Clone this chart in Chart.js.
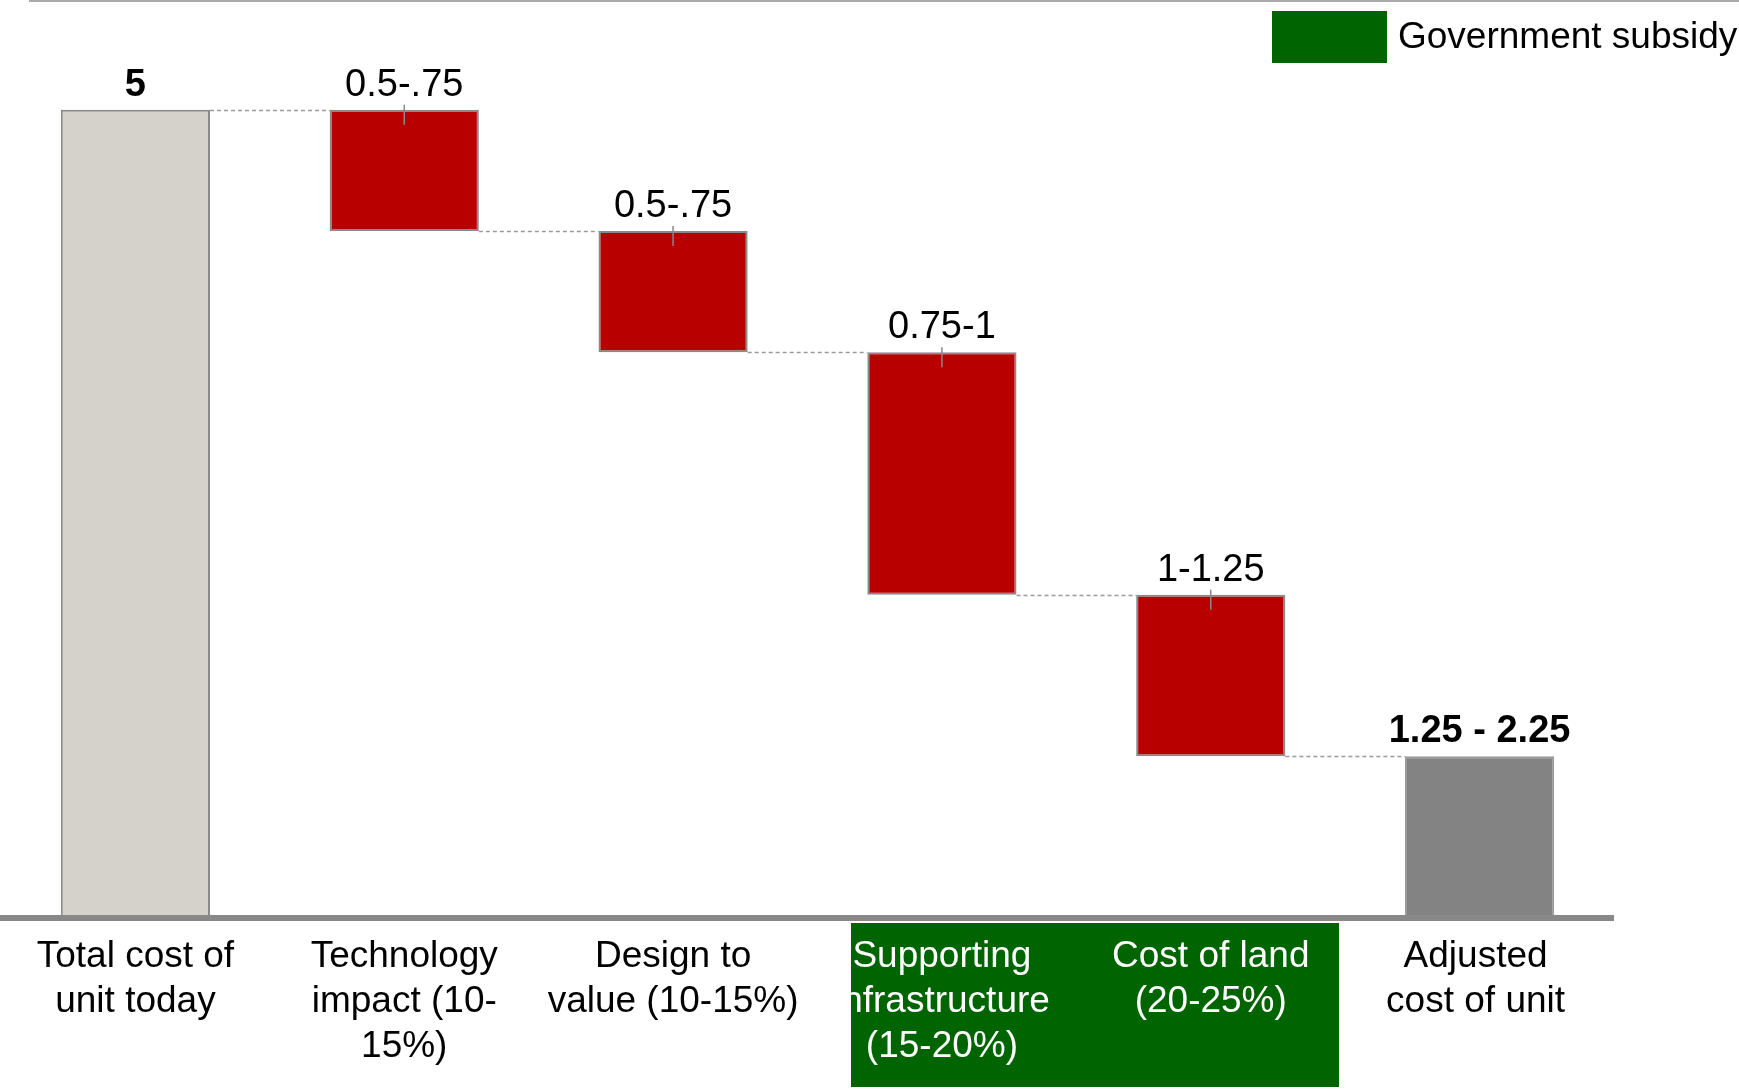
<!DOCTYPE html>
<html>
<head>
<meta charset="utf-8">
<script src="https://cdn.jsdelivr.net/npm/chart.js@4.4.0/dist/chart.umd.min.js"></script>
<style>
  html, body { margin: 0; padding: 0; background: #fff; overflow: hidden; }
  canvas { display: block; }
</style>
</head>
<body>
<canvas id="waterfallChart" width="1739" height="1089"></canvas>
<script>
// Data
const categories = [
    ["Total cost of", "unit today"],
    ["Technology", "impact (10-", "15%)"],
    ["Design to", "value (10-15%)"],
    ["Supporting", "infrastructure", "(15-20%)"],
    ["Cost of land", "(20-25%)"],
    ["Adjusted", "cost of unit"]
];
const startValue = 5;
const changes = [-0.75, -0.75, -1.5, -1];
const valueLabels = ["5", "0.5-.75", "0.5-.75", "0.75-1", "1-1.25", "1.25 - 2.25"];
const boldLabels = [true, false, false, false, false, true];
const subsidyCategories = [3, 4];
const legendText = "Government subsidy";

// build floating bars from the steps
const runningTotals = [startValue];
changes.forEach(c => runningTotals.push(runningTotals[runningTotals.length - 1] + c));
const endValue = runningTotals[runningTotals.length - 1];
const barData = [[0, startValue]];
for (let i = 0; i < changes.length; i++) {
    barData.push([runningTotals[i + 1], runningTotals[i]]);
}
barData.push([0, endValue]);
runningTotals.push(endValue);

const FONT = '"Liberation Sans", Arial, Helvetica, sans-serif';
const GREEN = '#006400';

const fillColors = ['#d5d2cb', '#b80000', '#b80000', '#b80000', '#b80000', '#838383'];
const borderColors = ['#8a8a8a', '#8a8a8a', '#8a8a8a', '#8a8a8a', '#8a8a8a', '#9a9a9a'];

const waterfallPlugin = {
    id: 'waterfallExtras',
    beforeDatasetsDraw(chart) {
        const ctx = chart.ctx;
        const meta = chart.getDatasetMeta(0);
        const y = chart.scales.y;
        // dashed connectors
        ctx.save();
        ctx.strokeStyle = '#9a9a9a';
        ctx.lineWidth = 1.5;
        ctx.setLineDash([4, 3]);
        for (let i = 0; i < meta.data.length - 1; i++) {
            const a = meta.data[i], b = meta.data[i + 1];
            const py = Math.round(y.getPixelForValue(runningTotals[i])) + 0.5;
            ctx.beginPath();
            ctx.moveTo(a.x + a.width / 2, py);
            ctx.lineTo(b.x - b.width / 2, py);
            ctx.stroke();
        }
        ctx.restore();
    },
    afterDatasetsDraw(chart) {
        const ctx = chart.ctx;
        const meta = chart.getDatasetMeta(0);
        const y = chart.scales.y;
        const area = chart.chartArea;
        ctx.save();

        // top rule
        ctx.strokeStyle = '#aaaaaa';
        ctx.lineWidth = 2;
        ctx.beginPath();
        ctx.moveTo(29, 1);
        ctx.lineTo(chart.width, 1);
        ctx.stroke();

        // axis line
        const base = y.getPixelForValue(0);
        ctx.strokeStyle = '#888888';
        ctx.lineWidth = 6;
        ctx.beginPath();
        ctx.moveTo(0, base);
        ctx.lineTo(area.right, base);
        ctx.stroke();

        // ticks on change bars + value labels
        meta.data.forEach((bar, i) => {
            const top = y.getPixelForValue(barData[i][1]);
            if (i > 0 && i < meta.data.length - 1) {
                ctx.strokeStyle = '#888888';
                ctx.lineWidth = 1.5;
                ctx.beginPath();
                ctx.moveTo(bar.x, top - 5);
                ctx.lineTo(bar.x, top + 15);
                ctx.stroke();
            }
            ctx.fillStyle = '#000';
            ctx.textAlign = 'center';
            ctx.textBaseline = 'alphabetic';
            ctx.font = (boldLabels[i] ? 'bold ' : '') + '38px ' + FONT;
            ctx.fillText(valueLabels[i], bar.x, top - 14);
        });

        // subsidy box behind labels
        const first = meta.data[subsidyCategories[0]];
        const last = meta.data[subsidyCategories[subsidyCategories.length - 1]];
        const boxL = Math.round(first.x - 91), boxR = Math.round(last.x + 128);
        const boxT = 923, boxB = 1087;
        ctx.fillStyle = GREEN;
        ctx.fillRect(boxL, boxT, boxR - boxL, boxB - boxT);

        // category labels
        ctx.font = '37px ' + FONT;
        ctx.textAlign = 'center';
        meta.data.forEach((bar, i) => {
            const inBox = subsidyCategories.includes(i);
            const cx = i === meta.data.length - 1 ? bar.x - 4 : bar.x;
            ctx.save();
            if (inBox) {
                ctx.beginPath();
                ctx.rect(boxL, boxT, boxR - boxL, boxB - boxT);
                ctx.clip();
                ctx.fillStyle = '#fff';
            } else {
                ctx.fillStyle = '#000';
            }
            categories[i].forEach((line, k) => {
                ctx.fillText(line, cx, 967 + k * 45);
            });
            ctx.restore();
        });

        // legend
        ctx.fillStyle = GREEN;
        ctx.fillRect(1272, 11, 115, 52);
        ctx.fillStyle = '#000';
        ctx.textAlign = 'left';
        ctx.font = '37px ' + FONT;
        ctx.fillText(legendText, 1398, 48);

        ctx.restore();
    }
};

const ctxWaterfall = document.getElementById('waterfallChart').getContext('2d');
const waterfallChart = new Chart(ctxWaterfall, {
    type: 'bar',
    data: {
        labels: categories.map(c => c.join(' ')),
        datasets: [{
            data: barData,
            backgroundColor: fillColors,
            borderColor: borderColors,
            borderWidth: 2,
            borderSkipped: false,
            categoryPercentage: 1,
            barPercentage: 0.555
        }]
    },
    options: {
        responsive: false,
        animation: false,
        layout: { padding: { left: 1, right: 125, top: 29, bottom: 171 } },
        plugins: { legend: { display: false }, tooltip: { enabled: false } },
        scales: {
            x: { display: false },
            y: { display: false, min: 0, max: 5.5 }
        }
    },
    plugins: [waterfallPlugin]
});
</script>
</body>
</html>
